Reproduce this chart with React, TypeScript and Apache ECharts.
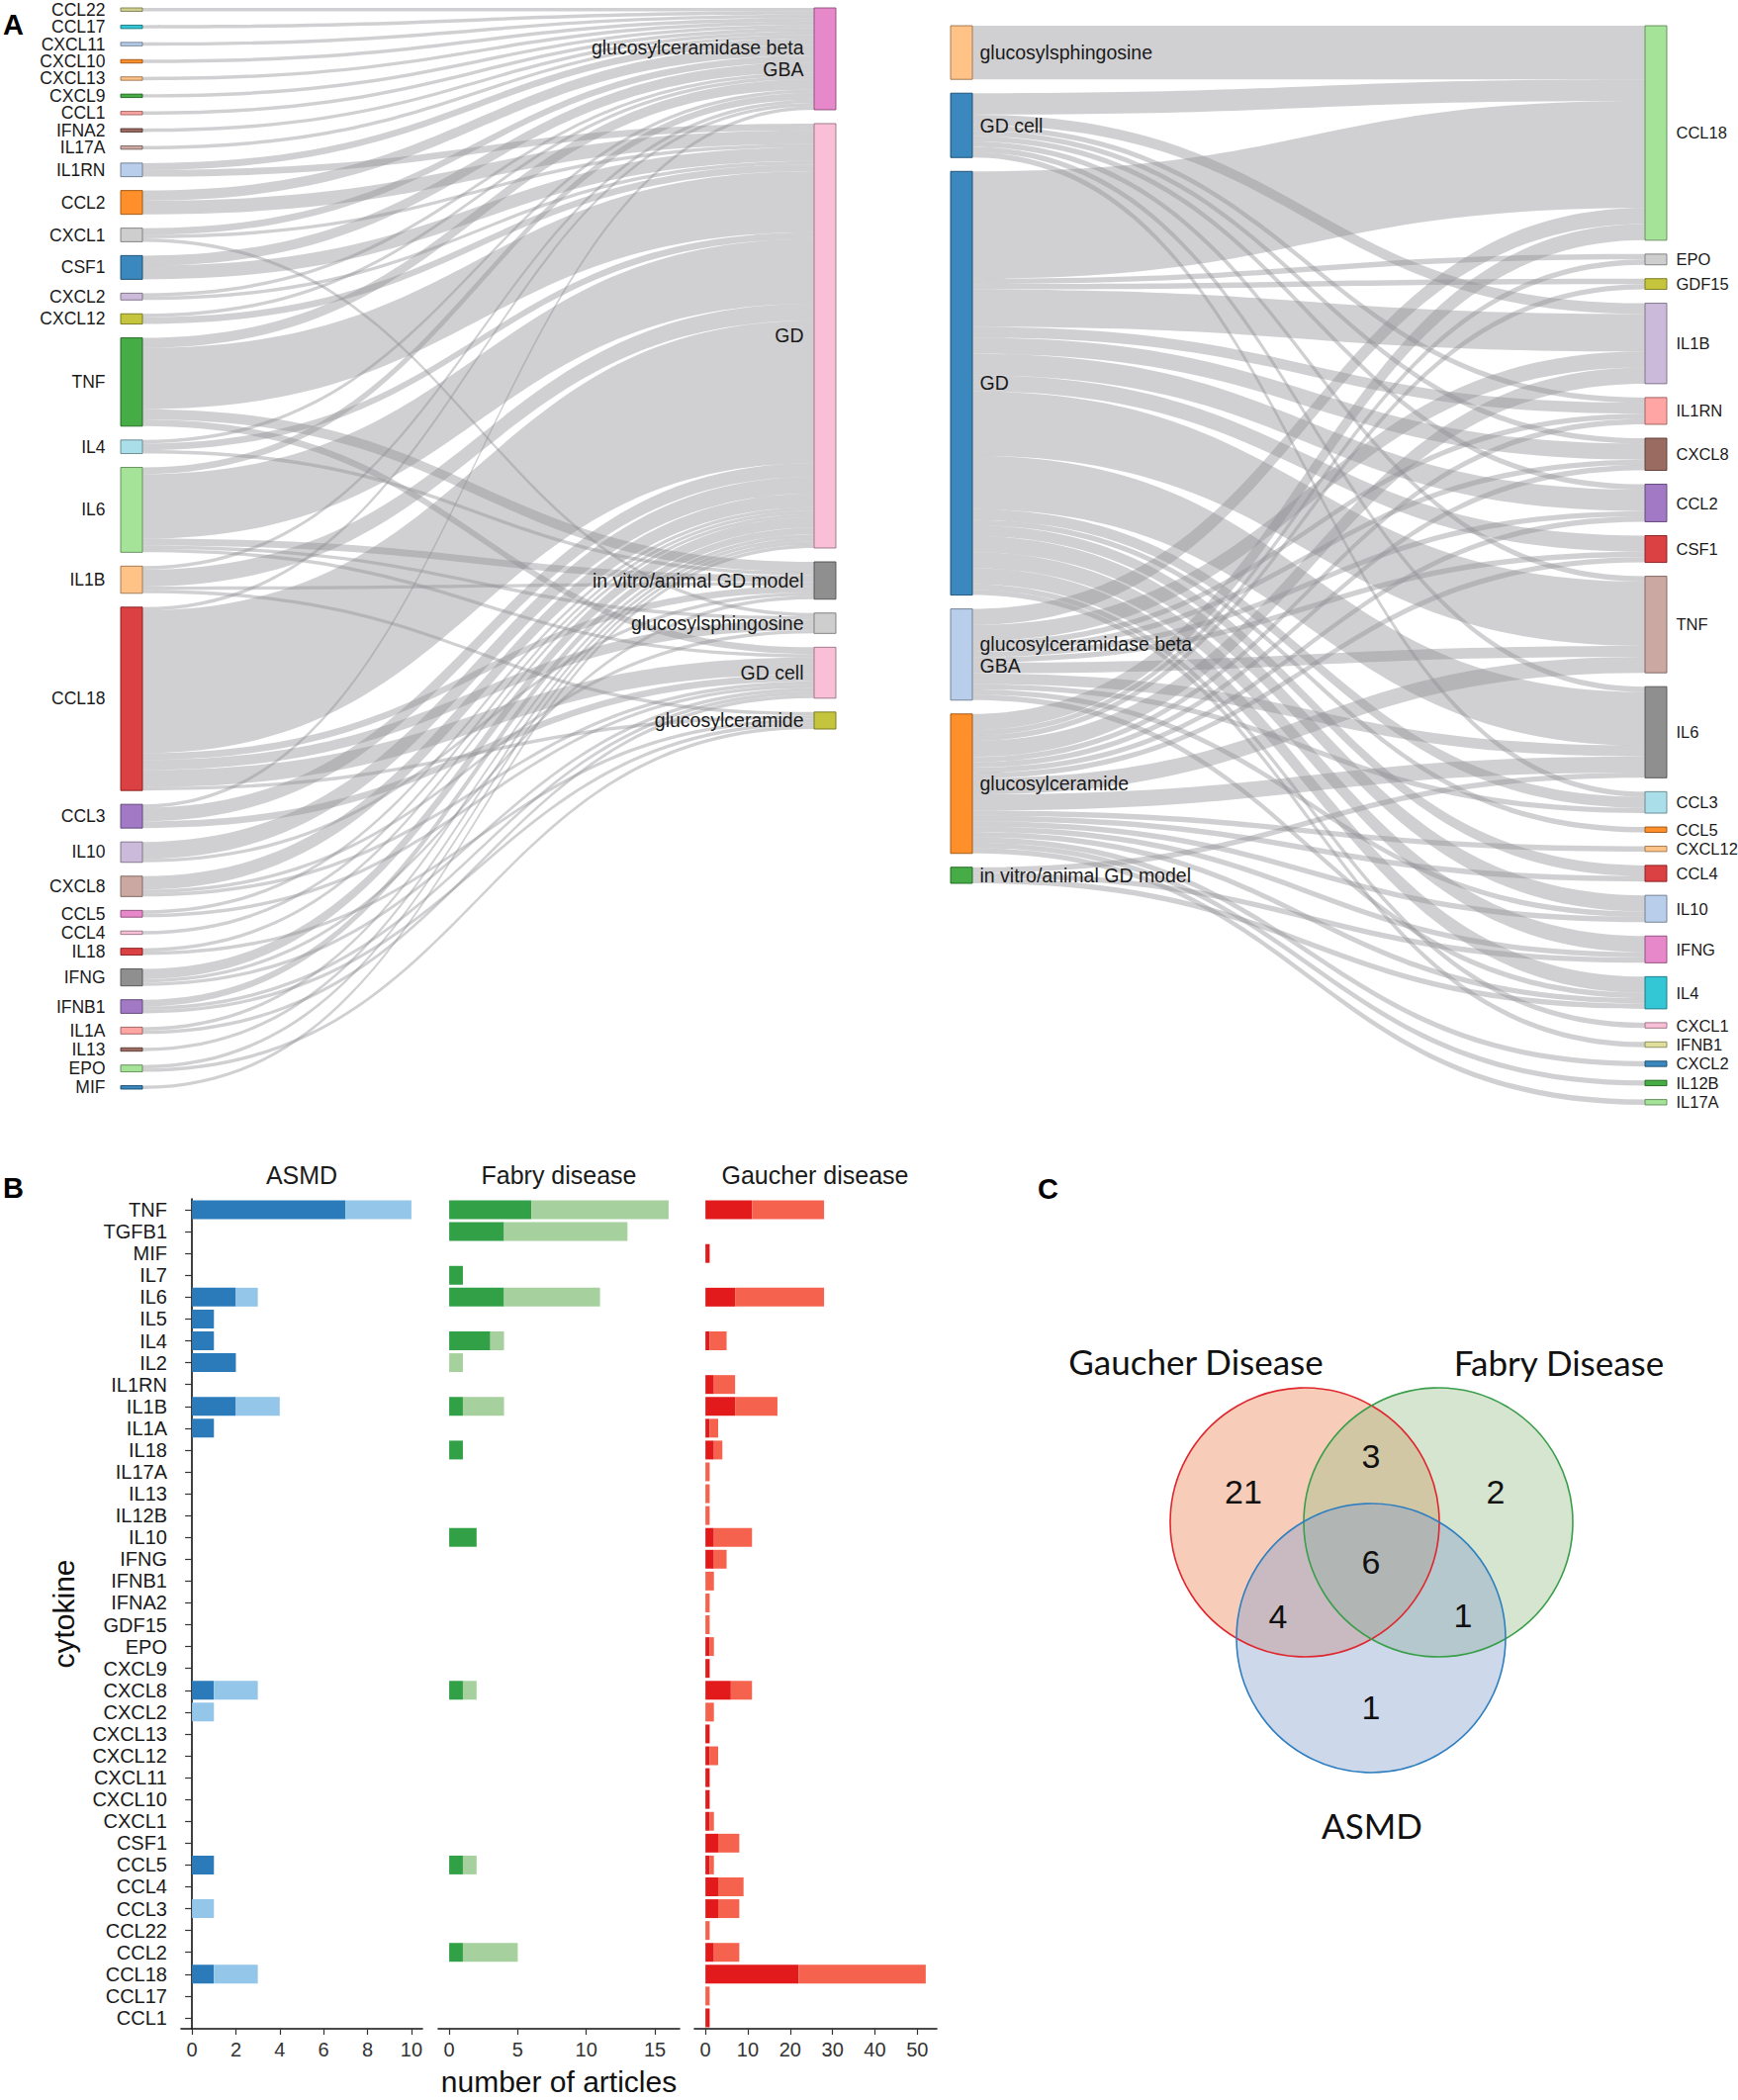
import React, { useEffect, useRef } from 'react';
import * as echarts from 'echarts';

// ---------------- Panel A: left sankey (cytokine -> GD term) ----------------
const leftSources = ['CCL22','CCL17','CXCL11','CXCL10','CXCL13','CXCL9','CCL1','IFNA2','IL17A','IL1RN','CCL2','CXCL1','CSF1','CXCL2','CXCL12','TNF','IL4','IL6','IL1B','CCL18','CCL3','IL10','CXCL8','CCL5','CCL4','IL18','IFNG','IFNB1','IL1A','IL13','EPO','MIF'];
const leftSourceColors = ['#c9c97f','#17becf','#aec7e8','#ff7f0e','#ffbb78','#2ca02c','#ff9896','#8c564b','#c49c94','#aec7e8','#ff7f0e','#c7c7c7','#1f77b4','#c5b0d5','#bcbd22','#2ca02c','#9edae5','#98df8a','#ffbb78','#d62728','#9467bd','#c5b0d5','#c49c94','#e377c2','#f7b6d2','#d62728','#7f7f7f','#9467bd','#ff9896','#8c564b','#98df8a','#1f77b4'];
const leftTargets = ['GBA','GD','in vitro/animal GD model','glucosylsphingosine','GD cell','glucosylceramide'];
const leftTargetColors = ['#e377c2','#f7b6d2','#7f7f7f','#c7c7c7','#f7b6d2','#bcbd22'];

const leftLinksGBA: [string, number][] = [['CCL22',1],['CCL17',1],['CXCL11',1],['CXCL10',1],['CXCL13',1],['CXCL9',1],['CCL1',1],['IFNA2',1],['IL17A',1],['IL1RN',2],['CCL2',3],['CXCL1',2],['CSF1',3],['CXCL2',1],['CXCL12',1],['TNF',3],['IL4',1],['IL6',2],['IL1B',1],['CCL18',1],['CCL3',1]];
const leftLinksGD: [string, number][] = [['IL1RN',2],['CCL2',4],['CXCL1',1],['CSF1',4],['CXCL2',1],['CXCL12',2],['TNF',18],['IL4',2],['IL6',19],['IL1B',5],['CCL18',42],['CCL3',4],['IL10',5],['CXCL8',4],['CCL5',1],['CCL4',1],['IL18',1],['IFNG',3],['IFNB1',2],['IL1A',1],['IL13',1],['EPO',1],['MIF',1]];
const leftLinksModel: [string, number][] = [['TNF',3],['IL4',1],['IL6',2],['IL1B',1],['CCL18',2],['IL10',1],['IFNG',1]];
const leftLinksGsph: [string, number][] = [['CXCL1',1],['IL6',1],['CCL18',3],['CXCL8',1]];
const leftLinksCell: [string, number][] = [['TNF',2],['IL6',1],['CCL18',5],['CCL3',2],['CXCL8',1],['CCL5',1],['IFNG',1],['IFNB1',1],['IL1A',1]];
const leftLinksGcer: [string, number][] = [['IL1B',1],['CCL18',1],['IL18',1],['IFNB1',1],['EPO',1]];

// ---------------- Panel A: right sankey (GD term -> cytokine) ----------------
const rightSources = ['glucosylsphingosine','GD cell','GD','GBA','glucosylceramide','in vitro/animal GD model'];
const rightSourceColors = ['#ffbb78','#1f77b4','#1f77b4','#aec7e8','#ff7f0e','#2ca02c'];
const rightTargets = ['CCL18','EPO','GDF15','IL1B','IL1RN','CXCL8','CCL2','CSF1','TNF','IL6','CCL3','CCL5','CXCL12','CCL4','IL10','IFNG','IL4','CXCL1','IFNB1','CXCL2','IL12B','IL17A'];
const rightTargetColors = ['#98df8a','#c7c7c7','#bcbd22','#c5b0d5','#ff9896','#8c564b','#9467bd','#d62728','#c49c94','#7f7f7f','#9edae5','#ff7f0e','#ffbb78','#d62728','#aec7e8','#e377c2','#17becf','#f7b6d2','#dbdb8d','#1f77b4','#2ca02c','#98df8a'];

const rightLinksGsph: [string, number][] = [['CCL18',10]];
const rightLinksCell: [string, number][] = [['CCL18',4],['IL1B',2],['IL1RN',1],['CXCL8',1],['CCL2',1],['TNF',1],['IL6',1],['CCL3',1]];
const rightLinksGD: [string, number][] = [['CCL18',20],['EPO',1],['GDF15',1],['IL1B',7],['IL1RN',2],['CXCL8',3],['CCL2',4],['CSF1',3],['TNF',12],['IL6',10],['CCL3',2],['CCL5',1],['CCL4',2],['IL10',3],['IFNG',3],['IL4',3],['CXCL1',1],['IFNB1',1]];
const rightLinksGBA: [string, number][] = [['CCL18',3],['IL1B',3],['IL1RN',1],['CXCL8',1],['CCL2',1],['CSF1',1],['TNF',2],['IL6',2],['CCL3',1],['IL10',1],['IL4',1]];
const rightLinksGcer: [string, number][] = [['CCL18',3],['EPO',1],['GDF15',1],['IL1B',3],['IL1RN',1],['CXCL8',1],['CCL2',1],['CSF1',1],['TNF',3],['IL6',3],['CXCL12',1],['CCL4',1],['IL10',1],['IFNG',1],['IL4',1],['CXCL2',1],['IL12B',1],['IL17A',1]];
const rightLinksModel: [string, number][] = [['IL6',1],['IFNG',1],['IL4',1]];

const displayNames: Record<string, string> = { GBA: 'glucosylceramidase beta\nGBA' };

// ---------------- Panel B: bar charts ----------------
const categories = ['TNF','TGFB1','MIF','IL7','IL6','IL5','IL4','IL2','IL1RN','IL1B','IL1A','IL18','IL17A','IL13','IL12B','IL10','IFNG','IFNB1','IFNA2','GDF15','EPO','CXCL9','CXCL8','CXCL2','CXCL13','CXCL12','CXCL11','CXCL10','CXCL1','CSF1','CCL5','CCL4','CCL3','CCL22','CCL2','CCL18','CCL17','CCL1'];
const asmdDark = [7,0,0,0,2,1,1,2,0,2,1,0,0,0,0,0,0,0,0,0,0,0,1,0,0,0,0,0,0,0,1,0,0,0,0,1,0,0];
const asmdLight = [3,0,0,0,1,0,0,0,0,2,0,0,0,0,0,0,0,0,0,0,0,0,2,1,0,0,0,0,0,0,0,0,1,0,0,2,0,0];
const fabryDark = [6,4,0,1,4,0,3,0,0,1,0,1,0,0,0,2,0,0,0,0,0,0,1,0,0,0,0,0,0,0,1,0,0,0,1,0,0,0];
const fabryLight = [10,9,0,0,7,0,1,1,0,3,0,0,0,0,0,0,0,0,0,0,0,0,1,0,0,0,0,0,0,0,1,0,0,0,4,0,0,0];
const gaucherDark = [11,0,1,0,7,0,1,0,2,7,1,2,0,0,0,2,2,0,0,0,1,1,6,0,1,1,1,1,1,3,1,3,3,0,2,22,0,1];
const gaucherLight = [17,0,0,0,21,0,4,0,5,10,2,2,1,1,1,9,3,2,1,1,1,0,5,2,0,2,0,0,1,5,1,6,5,1,6,30,1,0];
const asmdTicks = [0,2,4,6,8,10];
const fabryTicks = [0,5,10,15];
const gaucherTicks = [0,10,20,30,40,50];
const panelTitles = ['ASMD','Fabry disease','Gaucher disease'];

// ---------------- Panel C: Venn ----------------
const vennSetNames = ['Gaucher Disease','Fabry Disease','ASMD'];
const vennOnlyGaucher = 21, vennGaucherFabry = 3, vennOnlyFabry = 2, vennAll = 6, vennGaucherASMD = 4, vennFabryASMD = 1, vennOnlyASMD = 1;

const FONT = 'Liberation Sans, Arial, Helvetica, sans-serif';

function darken(hex: string, f = 0.6): string {
  const h = hex.replace('#', '');
  const r = Math.round(parseInt(h.slice(0, 2), 16) * f);
  const g = Math.round(parseInt(h.slice(2, 4), 16) * f);
  const b = Math.round(parseInt(h.slice(4, 6), 16) * f);
  return `rgb(${r},${g},${b})`;
}

function buildNodes(names: string[], colors: string[], position: string, distance: number, fontSize: number) {
  return names.map((n, i) => ({
    name: n,
    itemStyle: { color: colors[i], borderColor: darken(colors[i]), borderWidth: 1, opacity: 0.88 },
    label: { position, distance, fontSize },
  }));
}

function linksFromSource(src: string, list: [string, number][]) {
  return list.map(([t, v]) => ({ source: src, target: t, value: v }));
}
function linksToTarget(tgt: string, list: [string, number][]) {
  return list.map(([s, v]) => ({ source: s, target: tgt, value: v }));
}

const sankeyCommon = {
  type: 'sankey',
  nodeWidth: 22,
  nodeGap: 14,
  layoutIterations: 0,
  draggable: false,
  silent: true,
  emphasis: { disabled: true },
  lineStyle: { color: '#8e9093', opacity: 0.42, curveness: 0.5 },
  label: {
    fontSize: 18,
    fontFamily: FONT,
    color: '#1a1a1a',
    lineHeight: 22,
    formatter: (p: any) => displayNames[p.name] ?? p.name,
  },
};

export default function App() {
  const ref = useRef<HTMLDivElement>(null);

  useEffect(() => {
    if (!ref.current) return;
    const chart = echarts.init(ref.current, undefined, { renderer: 'svg' });

    const leftNodes = [
      ...buildNodes(leftSources, leftSourceColors, 'left', 15, 17.5),
      ...buildNodes(leftTargets, leftTargetColors, 'left', 10, 19.5),
    ];
    const leftLinks = [
      ...linksToTarget('GBA', leftLinksGBA),
      ...linksToTarget('GD', leftLinksGD),
      ...linksToTarget('in vitro/animal GD model', leftLinksModel),
      ...linksToTarget('glucosylsphingosine', leftLinksGsph),
      ...linksToTarget('GD cell', leftLinksCell),
      ...linksToTarget('glucosylceramide', leftLinksGcer),
    ];
    const rightNodes = [
      ...buildNodes(rightSources, rightSourceColors, 'right', 7, 19.5),
      ...buildNodes(rightTargets, rightTargetColors, 'right', 9, 16.5),
    ];
    const rightLinks = [
      ...linksFromSource('glucosylsphingosine', rightLinksGsph),
      ...linksFromSource('GD cell', rightLinksCell),
      ...linksFromSource('GD', rightLinksGD),
      ...linksFromSource('GBA', rightLinksGBA),
      ...linksFromSource('glucosylceramide', rightLinksGcer),
      ...linksFromSource('in vitro/animal GD model', rightLinksModel),
    ];

    const gridTop = 1212;
    const gridH = 839;
    const grids = [
      { left: 183, top: gridTop, width: 244, height: gridH },
      { left: 443, top: gridTop, width: 244, height: gridH },
      { left: 702, top: gridTop, width: 245, height: gridH },
    ].map((g) => ({ ...g, containLabel: false, outerBoundsMode: 'none' }));

    const ranges: [number, number][] = [[-0.5, 10.5], [-0.8, 16.8], [-2.6, 54.6]];
    const ticks = [asmdTicks, fabryTicks, gaucherTicks];
    const xAxes = ranges.map((r, i) => ({
      gridIndex: i,
      type: 'value',
      min: r[0],
      max: r[1],
      axisLine: { show: true, lineStyle: { color: '#111', width: 1.6 } },
      axisTick: { show: true, customValues: ticks[i], length: 6, lineStyle: { color: '#333', width: 1.2 } },
      axisLabel: { customValues: ticks[i], fontSize: 20, color: '#333', margin: 11, fontFamily: FONT },
      splitLine: { show: false },
      ...(i === 1
        ? { name: 'number of articles', nameLocation: 'middle', nameGap: 38, nameTextStyle: { fontSize: 30, color: '#111', fontFamily: FONT } }
        : {}),
    }));
    const yAxes = [0, 1, 2].map((i) => ({
      gridIndex: i,
      type: 'category',
      data: categories,
      inverse: true,
      axisLine: { show: i === 0, lineStyle: { color: '#111', width: 1.6 } },
      axisTick: { show: i === 0, alignWithLabel: true, length: 7, lineStyle: { color: '#333', width: 1.2 } },
      axisLabel: { show: i === 0, interval: 0, fontSize: 20, color: '#1a1a1a', margin: 14, fontFamily: FONT },
      splitLine: { show: false },
      ...(i === 0
        ? { name: 'cytokine', nameLocation: 'middle', nameGap: 104, nameRotate: 90, nameTextStyle: { fontSize: 30, color: '#111', fontFamily: FONT } }
        : {}),
    }));

    const barSets = [
      [asmdDark, asmdLight, '#2b7bba', '#94c6ea'],
      [fabryDark, fabryLight, '#31a046', '#a6d19e'],
      [gaucherDark, gaucherLight, '#e31a1c', '#f5624e'],
    ] as [number[], number[], string, string][];
    const barSeries: any[] = [];
    barSets.forEach(([dark, light, cDark, cLight], i) => {
      barSeries.push({
        type: 'bar', xAxisIndex: i, yAxisIndex: i, stack: 's' + i, data: dark,
        barCategoryGap: '14%', itemStyle: { color: cDark }, silent: true,
      });
      barSeries.push({
        type: 'bar', xAxisIndex: i, yAxisIndex: i, stack: 's' + i, data: light,
        barCategoryGap: '14%', itemStyle: { color: cLight }, silent: true,
      });
    });

    const stripX = [305, 565, 824];
    const graphicEls: any[] = [];
    panelTitles.forEach((t, i) => {
      graphicEls.push({
        type: 'text', x: stripX[i], y: 1188,
        style: { text: t, fontSize: 25, fontFamily: FONT, fill: '#1a1a1a', align: 'center', verticalAlign: 'middle' },
      });
    });
    [['A', 3, 10], ['B', 3, 1186], ['C', 1049, 1187]].forEach(([t, x, y]) => {
      graphicEls.push({
        type: 'text', x, y,
        style: { text: t, fontSize: 29, fontWeight: 'bold', fontFamily: FONT, fill: '#000', align: 'left', verticalAlign: 'top' },
      });
    });

    // Venn diagram
    const vr = 136;
    const vc = [
      { cx: 1319, cy: 1539, fill: 'rgba(235,130,80,0.4)', stroke: '#e0262e' },
      { cx: 1454, cy: 1539, fill: 'rgba(152,190,135,0.4)', stroke: '#3a9e4a' },
      { cx: 1386, cy: 1656, fill: 'rgba(130,157,202,0.4)', stroke: '#2f7fc0' },
    ];
    vc.forEach((c) => graphicEls.push({ type: 'circle', shape: { cx: c.cx, cy: c.cy, r: vr }, style: { fill: c.fill, stroke: 'none' } }));
    vc.forEach((c) => graphicEls.push({ type: 'circle', shape: { cx: c.cx, cy: c.cy, r: vr }, style: { fill: 'none', stroke: c.stroke, lineWidth: 1.6 } }));
    const vennNums: [number, number, number][] = [
      [vennOnlyGaucher, 1257, 1508],
      [vennGaucherFabry, 1386, 1472],
      [vennOnlyFabry, 1512, 1508],
      [vennAll, 1386, 1579],
      [vennGaucherASMD, 1292, 1634],
      [vennFabryASMD, 1479, 1633],
      [vennOnlyASMD, 1386, 1726],
    ];
    vennNums.forEach(([n, x, y]) => graphicEls.push({
      type: 'text', x, y,
      style: { text: String(n), fontSize: 34, fontFamily: FONT, fill: '#111', align: 'center', verticalAlign: 'middle' },
    }));
    const vennLabelPos: [number, number][] = [[1209, 1376], [1576, 1377], [1387, 1845]];
    vennSetNames.forEach((t, i) => graphicEls.push({
      type: 'text', x: vennLabelPos[i][0], y: vennLabelPos[i][1],
      style: { text: t, fontSize: 35, fontFamily: 'Lato, Open Sans, sans-serif', fill: '#111', align: 'center', verticalAlign: 'middle' },
    }));

    chart.setOption({
      animation: false,
      backgroundColor: '#ffffff',
      textStyle: { fontFamily: FONT },
      grid: grids,
      xAxis: xAxes,
      yAxis: yAxes,
      series: [
        { ...sankeyCommon, left: 122, top: 8, width: 723, height: 1093, data: leftNodes, links: leftLinks },
        { ...sankeyCommon, left: 961, top: 26, width: 724, height: 1091, data: rightNodes, links: rightLinks },
        ...barSeries,
      ],
      graphic: { elements: graphicEls },
    });

    return () => chart.dispose();
  }, []);

  return (
    <div
      ref={ref}
      style={{ position: 'absolute', left: 0, top: 0, width: 1757, height: 2123, background: '#fff' }}
    />
  );
}
